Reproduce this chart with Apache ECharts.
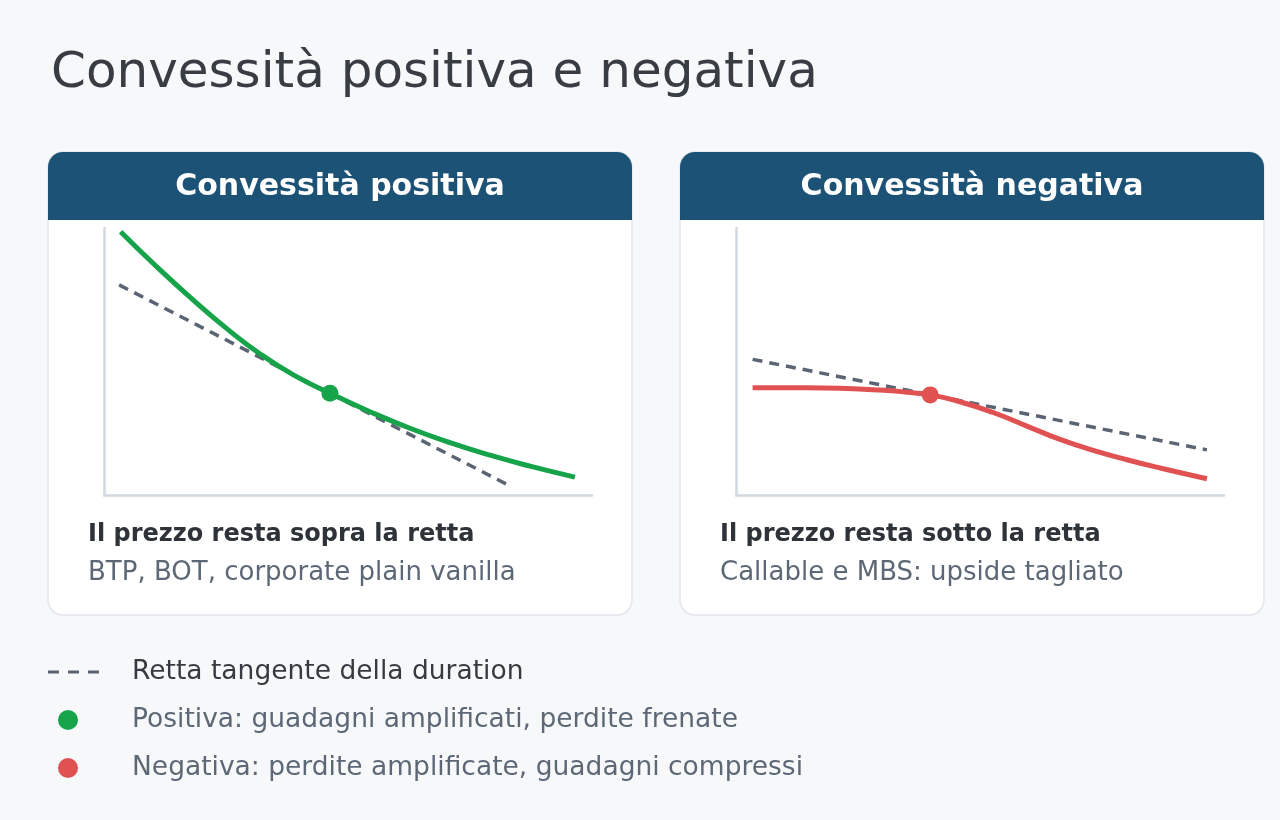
<!DOCTYPE html>
<html>
<head>
<meta charset="utf-8">
<script src="https://cdn.jsdelivr.net/npm/echarts@6/dist/echarts.min.js"></script>
<style>
html,body{margin:0;padding:0;background:#f7f8fa;}
#chart{width:1280px;height:820px;}
</style>
</head>
<body>
<div id="chart"></div>
<script>
// ---- Data (arbitrary units 0..100 on both axes) ----
const mainTitle = 'Convessità positiva e negativa';
const panelTitles = ['Convessità positiva', 'Convessità negativa'];
const panelHeadlines = ['Il prezzo resta sopra la retta', 'Il prezzo resta sotto la retta'];
const panelNotes = ['BTP, BOT, corporate plain vanilla', 'Callable e MBS: upside tagliato'];

const posCurve = [[3.4, 98.6], [10.8, 85.5], [18.3, 73.0], [25.1, 62.4], [32.0, 52.8], [38.8, 45.0], [46.3, 38.1], [54.5, 31.2], [62.7, 25.0], [70.9, 19.6], [79.1, 14.9], [87.3, 10.8], [96.5, 6.7]];
const posTangent = [[3.1, 78.7], [83.5, 3.1]];
const posPoint = [[46.3, 38.1]];

const negCurve = [[3.4, 40.2], [14.5, 40.2], [21.3, 40.0], [29.5, 39.3], [35.0, 38.5], [39.8, 37.5], [45.2, 35.3], [52.7, 30.9], [59.6, 25.8], [66.4, 20.8], [73.2, 16.7], [80.1, 13.2], [86.9, 10.1], [96.5, 6.1]];
const negTangent = [[3.4, 50.8], [96.5, 16.9]];
const negPoint = [[39.8, 37.5]];

const legendLabels = ['Retta tangente della duration', 'Positiva: guadagni amplificati, perdite frenate', 'Negativa: perdite amplificate, guadagni compressi'];

// ---- Styles ----
const FONT = '"DejaVu Sans", "Open Sans", sans-serif';
const GREEN = '#16a34a';
const RED = '#e05252';
const DASH = '#5a6472';
const HEADER = '#1c5275';
const AXIS = '#d3d9e0';

const chart = echarts.init(document.getElementById('chart'), null, {renderer: 'canvas'});

const cardX = [48, 680];
const cardY = 152, cardW = 584, cardH = 463, headH = 68;

const graphics = [];
cardX.forEach((x, i) => {
  graphics.push({type: 'rect', z: -10, shape: {x: x, y: cardY, width: cardW, height: cardH, r: 15},
    style: {fill: '#ffffff', stroke: '#e2e6eb', lineWidth: 1.5}});
  graphics.push({type: 'rect', z: -9, shape: {x: x, y: cardY, width: cardW, height: headH, r: [15, 15, 0, 0]},
    style: {fill: HEADER}});
  graphics.push({type: 'text', z: 5, x: x + cardW / 2, y: cardY + headH / 2 + 1,
    style: {text: panelTitles[i], fill: '#ffffff', font: 'bold 30px ' + FONT, textAlign: 'center', textVerticalAlign: 'middle'}});
  graphics.push({type: 'text', z: 5, x: x + 40, y: 535,
    style: {text: panelHeadlines[i], fill: '#2e3339', font: 'bold 24px ' + FONT, textAlign: 'left', textVerticalAlign: 'middle'}});
  graphics.push({type: 'text', z: 5, x: x + 40, y: 573,
    style: {text: panelNotes[i], fill: '#5d6877', font: '400 26px ' + FONT, textAlign: 'left', textVerticalAlign: 'middle'}});
});

// legend
graphics.push({type: 'line', z: 5, shape: {x1: 48, y1: 672, x2: 100, y2: 672},
  style: {stroke: DASH, lineWidth: 3, lineDash: [11, 9]}});
graphics.push({type: 'circle', z: 5, shape: {cx: 68, cy: 720, r: 10}, style: {fill: GREEN}});
graphics.push({type: 'circle', z: 5, shape: {cx: 68, cy: 768, r: 10}, style: {fill: RED}});
const legendColors = ['#363b42', '#5d6877', '#5d6877'];
legendLabels.forEach((t, i) => {
  graphics.push({type: 'text', z: 5, x: 132, y: 672 + i * 48,
    style: {text: t, fill: legendColors[i], font: '400 26.5px ' + FONT, textAlign: 'left', textVerticalAlign: 'middle'}});
});

function axisPair(gi) {
  const common = {
    type: 'value', min: 0, max: 100, gridIndex: gi,
    axisLine: {show: true, lineStyle: {color: AXIS, width: 2.5}},
    axisTick: {show: false}, axisLabel: {show: false}, splitLine: {show: false}
  };
  return {x: Object.assign({}, common), y: Object.assign({}, common)};
}
const a0 = axisPair(0), a1 = axisPair(1);

chart.setOption({
  backgroundColor: '#f7f8fa',
  animation: false,
  title: {
    text: mainTitle, left: 46, top: 44,
    textStyle: {fontFamily: FONT, fontSize: 50, fontWeight: 400, color: '#383d44'}
  },
  grid: [
    {left: 104, top: 228, width: 488, height: 267},
    {left: 736, top: 228, width: 488, height: 267}
  ],
  xAxis: [a0.x, a1.x],
  yAxis: [a0.y, a1.y],
  graphic: graphics,
  series: [
    {type: 'line', xAxisIndex: 0, yAxisIndex: 0, data: posTangent, symbol: 'none', z: 3,
      lineStyle: {color: DASH, width: 3.5, type: [10, 7]}},
    {type: 'line', xAxisIndex: 0, yAxisIndex: 0, data: posCurve, symbol: 'none', smooth: 0.5, z: 4,
      lineStyle: {color: GREEN, width: 5}},
    {type: 'scatter', xAxisIndex: 0, yAxisIndex: 0, data: posPoint, symbolSize: 17, z: 5,
      itemStyle: {color: GREEN, opacity: 1}},
    {type: 'line', xAxisIndex: 1, yAxisIndex: 1, data: negTangent, symbol: 'none', z: 3,
      lineStyle: {color: DASH, width: 3.5, type: [10, 7]}},
    {type: 'line', xAxisIndex: 1, yAxisIndex: 1, data: negCurve, symbol: 'none', smooth: 0.5, z: 4,
      lineStyle: {color: RED, width: 5}},
    {type: 'scatter', xAxisIndex: 1, yAxisIndex: 1, data: negPoint, symbolSize: 17, z: 5,
      itemStyle: {color: RED, opacity: 1}}
  ]
});
</script>
</body>
</html>
